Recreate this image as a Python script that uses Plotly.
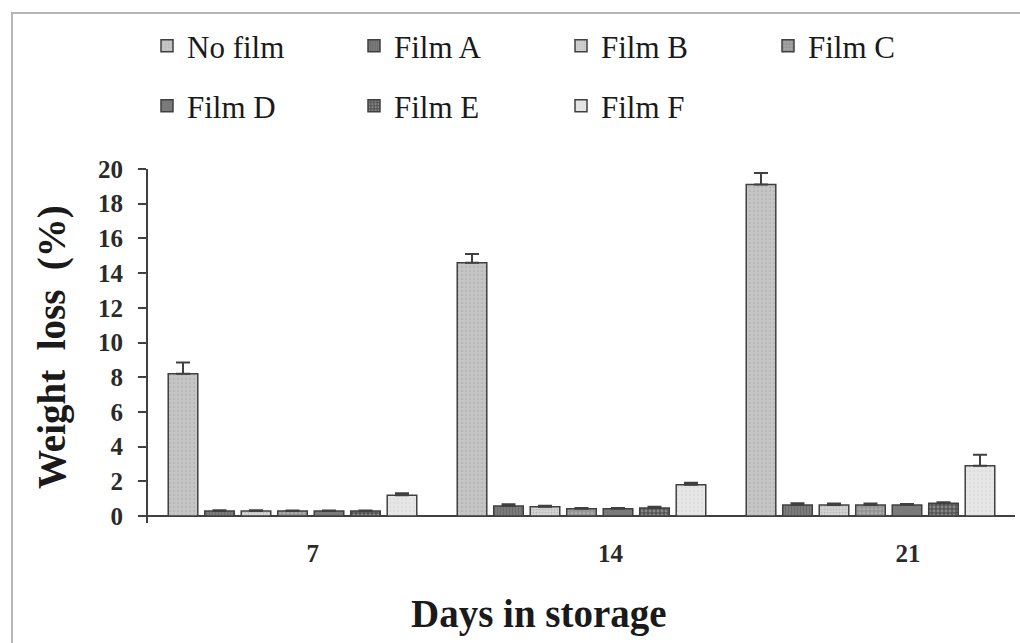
import plotly.graph_objects as go

days = ["7", "14", "21"]
series_names = ["No film", "Film A", "Film B", "Film C", "Film D", "Film E", "Film F"]

no_film = [8.2, 14.6, 19.1]
film_a = [0.29, 0.58, 0.64]
film_b = [0.29, 0.54, 0.64]
film_c = [0.29, 0.42, 0.64]
film_d = [0.29, 0.42, 0.64]
film_e = [0.29, 0.46, 0.74]
film_f = [1.2, 1.8, 2.9]

err_no_film = [0.65, 0.5, 0.67]
err_a = [0.04, 0.1, 0.1]
err_b = [0.04, 0.05, 0.08]
err_c = [0.03, 0.05, 0.08]
err_d = [0.03, 0.05, 0.06]
err_e = [0.03, 0.08, 0.05]
err_f = [0.12, 0.12, 0.63]

values = [no_film, film_a, film_b, film_c, film_d, film_e, film_f]
errors = [err_no_film, err_a, err_b, err_c, err_d, err_e, err_f]

styles = [
    dict(bg="#c6c6c6", fg="#aaaaaa", shape=".", size=4, sol=0.3),
    dict(bg="#7c7c7c", fg="#5a5a5a", shape="|", size=3, sol=0.4),
    dict(bg="#d6d6d6", fg="#a0a0a0", shape=".", size=3, sol=0.4),
    dict(bg="#a8a8a8", fg="#5a5a5a", shape="+", size=4, sol=0.3),
    dict(bg="#7a7a7a", fg="#7a7a7a", shape="", size=4, sol=0.3),
    dict(bg="#555555", fg="#bdbdbd", shape=".", size=4, sol=0.4),
    dict(bg="#e6e6e6", fg="#d0d0d0", shape=".", size=4, sol=0.2),
]

FONT = "Liberation Serif"
x_idx = list(range(len(days)))

fig = go.Figure()
for i, (name, vals, errs, st) in enumerate(zip(series_names, values, errors, styles)):
    fig.add_trace(go.Bar(
        name=name,
        x=x_idx,
        y=vals,
        legend="legend" if i < 4 else "legend2",
        marker=dict(
            color=st["bg"],
            line=dict(color="#404040", width=1.5),
            pattern=dict(shape=st["shape"], fgcolor=st["fg"], bgcolor=st["bg"],
                         size=st["size"], solidity=st["sol"]),
        ),
        error_y=dict(type="data", array=errs, arrayminus=[0] * len(errs), symmetric=False,
                     color="#404040", thickness=2, width=7),
    ))

# plot-area geometry (px)
L, R, T, B = 148, 5, 169, 120
W, H = 1020, 643
pw, ph = W - L - R, H - T - B

def px_x(px):
    return (px - L) / pw

def px_y(py):
    return (H - B - py) / ph

fig.update_layout(
    width=W, height=H,
    margin=dict(l=L, r=R, t=T, b=B, pad=0),
    paper_bgcolor="white", plot_bgcolor="white",
    barmode="group", bargap=0.116, bargroupgap=0.19,
    font=dict(family=FONT, color="#1a1a1a"),
    legend=dict(orientation="h", x=px_x(147), y=px_y(46), xanchor="left", yanchor="middle",
                font=dict(family=FONT, size=31, color="#1a1a1a"),
                entrywidth=162, entrywidthmode="pixels", traceorder="normal",
                bgcolor="rgba(0,0,0,0)"),
    legend2=dict(orientation="h", x=px_x(147), y=px_y(106), xanchor="left", yanchor="middle",
                 font=dict(family=FONT, size=31, color="#1a1a1a"),
                 entrywidth=162, entrywidthmode="pixels", traceorder="normal",
                 bgcolor="rgba(0,0,0,0)"),
    xaxis=dict(
        range=[-0.5, 2.5], showgrid=False, zeroline=False, showline=False,
        tickmode="array", tickvals=[0.07, 1.10, 2.13], ticktext=days,
        ticks="", tickfont=dict(family=FONT, size=25, color="#2a2a2a", weight="bold"),
        ticklabelstandoff=13,
    ),
    yaxis=dict(
        range=[-0.4, 20], showgrid=False, zeroline=True, zerolinecolor="#404040", zerolinewidth=2,
        showline=True, linecolor="#404040", linewidth=2,
        tickmode="array", tickvals=list(range(0, 21, 2)),
        ticks="outside", ticklen=8, tickwidth=2, tickcolor="#404040",
        tickfont=dict(family=FONT, size=25, color="#2a2a2a", weight="bold"),
        ticklabelstandoff=10,
    ),
    annotations=[
        dict(text="Weight  loss  (%)", textangle=-90, xref="paper", yref="paper",
             x=px_x(52), y=px_y(347), xanchor="center", yanchor="middle", showarrow=False,
             font=dict(family=FONT, size=39, color="#1a1a1a", weight="bold")),
        dict(text="Days in storage", xref="paper", yref="paper",
             x=px_x(539), y=px_y(614), xanchor="center", yanchor="middle", showarrow=False,
             font=dict(family=FONT, size=39, color="#1a1a1a", weight="bold")),
    ],
    shapes=[
        dict(type="rect", xref="paper", yref="paper", x0=px_x(12), y0=px_y(700),
             x1=px_x(1040), y1=px_y(13), line=dict(color="#b5b5b5", width=2), layer="below"),
    ],
)

fig.write_html("out.html")
